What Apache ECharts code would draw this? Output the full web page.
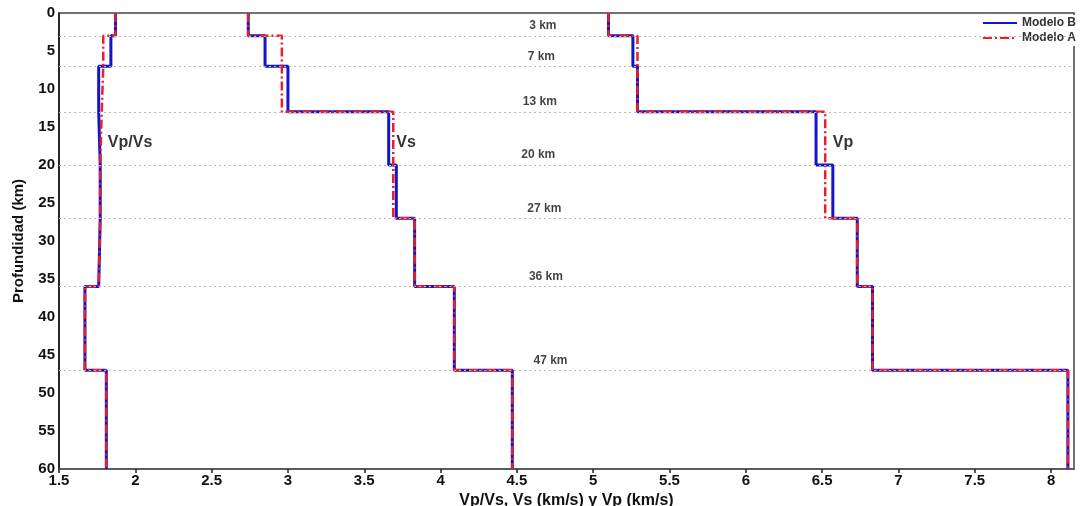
<!DOCTYPE html>
<html><head><meta charset="utf-8">
<script src="https://cdn.jsdelivr.net/npm/echarts@6/dist/echarts.min.js"></script>
<style>html,body{margin:0;padding:0;background:#fff}#c{width:1083px;height:506px}</style>
</head><body><div id="c"></div>
<script>
// Layer boundaries (km)
const depths = [0, 3, 7, 13, 20, 27, 36, 47, 60];
// Modelo B (blue)
const vpvsB = [1.87, 1.84, 1.76, 1.77, 1.77, 1.76, 1.67, 1.81];
const vsB   = [2.74, 2.85, 3.00, 3.66, 3.71, 3.83, 4.09, 4.47];
const vpB   = [5.10, 5.26, 5.29, 6.46, 6.57, 6.73, 6.83, 8.11];
// Modelo A (red)
const vpvsA = [1.87, 1.79, 1.78, 1.77, 1.77, 1.76, 1.67, 1.81];
const vsA   = [2.74, 2.96, 2.96, 3.69, 3.69, 3.83, 4.09, 4.47];
const vpA   = [5.10, 5.29, 5.29, 6.52, 6.52, 6.73, 6.83, 8.11];
// Interface labels
const interfaceDepths = [3, 7, 13, 20, 27, 36, 47];
const interfaceLabels = ['3 km', '7 km', '13 km', '20 km', '27 km', '36 km', '47 km'];
const interfaceLabelX = [4.67, 4.66, 4.65, 4.64, 4.68, 4.69, 4.72];
// Profile labels
const profileNames = ['Vp/Vs', 'Vs', 'Vp'];
const profileLabelX = [1.82, 3.71, 6.57];
const profileLabelDepth = 17;

function profile(vals) {
  const pts = [];
  vals.forEach((v, i) => { pts.push([v, depths[i]]); pts.push([v, depths[i + 1]]); });
  return pts;
}
const FONT = '"Liberation Sans", Arial, sans-serif';
const BLUE = '#1414c8', RED = '#e8202a';
const series = [];
[vpvsB, vsB, vpB].forEach(arr => series.push({
  name: 'Modelo B', type: 'line', data: profile(arr), showSymbol: false, symbol: 'none',
  lineStyle: { color: BLUE, width: 3 }, itemStyle: { color: BLUE }, z: 3, silent: true
}));
[vpvsA, vsA, vpA].forEach(arr => series.push({
  name: 'Modelo A', type: 'line', data: profile(arr), showSymbol: false, symbol: 'none',
  lineStyle: { color: RED, width: 2.5, type: [9, 3, 2, 3] }, itemStyle: { color: RED }, z: 4, silent: true
}));
// interface dotted lines
series.push({
  type: 'line', data: [], silent: true,
  markLine: {
    symbol: 'none', silent: true, label: { show: false },
    lineStyle: { color: '#b8b8b8', type: [2, 3], width: 1.2 },
    data: interfaceDepths.map(d => ({ yAxis: d }))
  }
});
series.push({
  type: 'scatter', symbolSize: 0, silent: true,
  data: interfaceDepths.map((d, i) => ({ value: [interfaceLabelX[i], d], name: interfaceLabels[i] })),
  label: { show: true, formatter: p => p.name, position: 'top', distance: 4,
    fontFamily: FONT, fontWeight: 'bold', fontSize: 12, color: '#111' }
});
series.push({
  type: 'scatter', symbolSize: 0, silent: true,
  data: profileNames.map((n, i) => ({ value: [profileLabelX[i], profileLabelDepth], name: n })),
  label: { show: true, formatter: p => p.name, position: 'right', distance: 0,
    fontFamily: FONT, fontWeight: 'bold', fontSize: 16, color: '#000' }
});

const chart = echarts.init(document.getElementById('c'), null, { renderer: 'canvas' });
chart.setOption({
  animation: false,
  backgroundColor: '#fff',
  grid: { left: 59, right: 9, top: 13, bottom: 37, show: true, borderColor: '#444', borderWidth: 1.5,
    containLabel: false, outerBoundsMode: 'none' },
  legend: {
    data: ['Modelo B', 'Modelo A'],
    orient: 'vertical', right: 2, top: 15, padding: [2, 5, 2, 5], itemGap: 3, itemWidth: 34, itemHeight: 12,
    backgroundColor: '#fff',
    itemStyle: { opacity: 0 },
    textStyle: { fontFamily: FONT, fontWeight: 'bold', fontSize: 12, color: '#333' }
  },
  xAxis: {
    type: 'value', min: 1.5, max: 8.15, interval: 0.5,
    name: 'Vp/Vs, Vs (km/s) y Vp (km/s)', nameLocation: 'middle', nameGap: 21,
    nameTextStyle: { fontFamily: FONT, fontWeight: 'bold', fontSize: 16, color: '#111' },
    axisLine: { onZero: false, lineStyle: { color: '#555', width: 1.5 } },
    axisTick: { show: true, length: 4, lineStyle: { color: '#222', width: 1.5 } },
    axisLabel: { fontFamily: FONT, fontWeight: 'bold', fontSize: 15, color: '#111', margin: 4,
      showMaxLabel: false },
    splitLine: { show: false }
  },
  yAxis: {
    type: 'value', inverse: true, min: 0, max: 60, interval: 5,
    name: 'Profundidad (km)', nameLocation: 'middle', nameGap: 33, nameRotate: 90,
    nameTextStyle: { fontFamily: FONT, fontWeight: 'bold', fontSize: 15, color: '#111' },
    axisLine: { show: true, onZero: false, lineStyle: { color: '#111', width: 1.5 } },
    axisTick: { show: false },
    axisLabel: { fontFamily: FONT, fontWeight: 'bold', fontSize: 15, color: '#111', margin: 4 },
    splitLine: { show: false }
  },
  series: series
});
</script></body></html>
